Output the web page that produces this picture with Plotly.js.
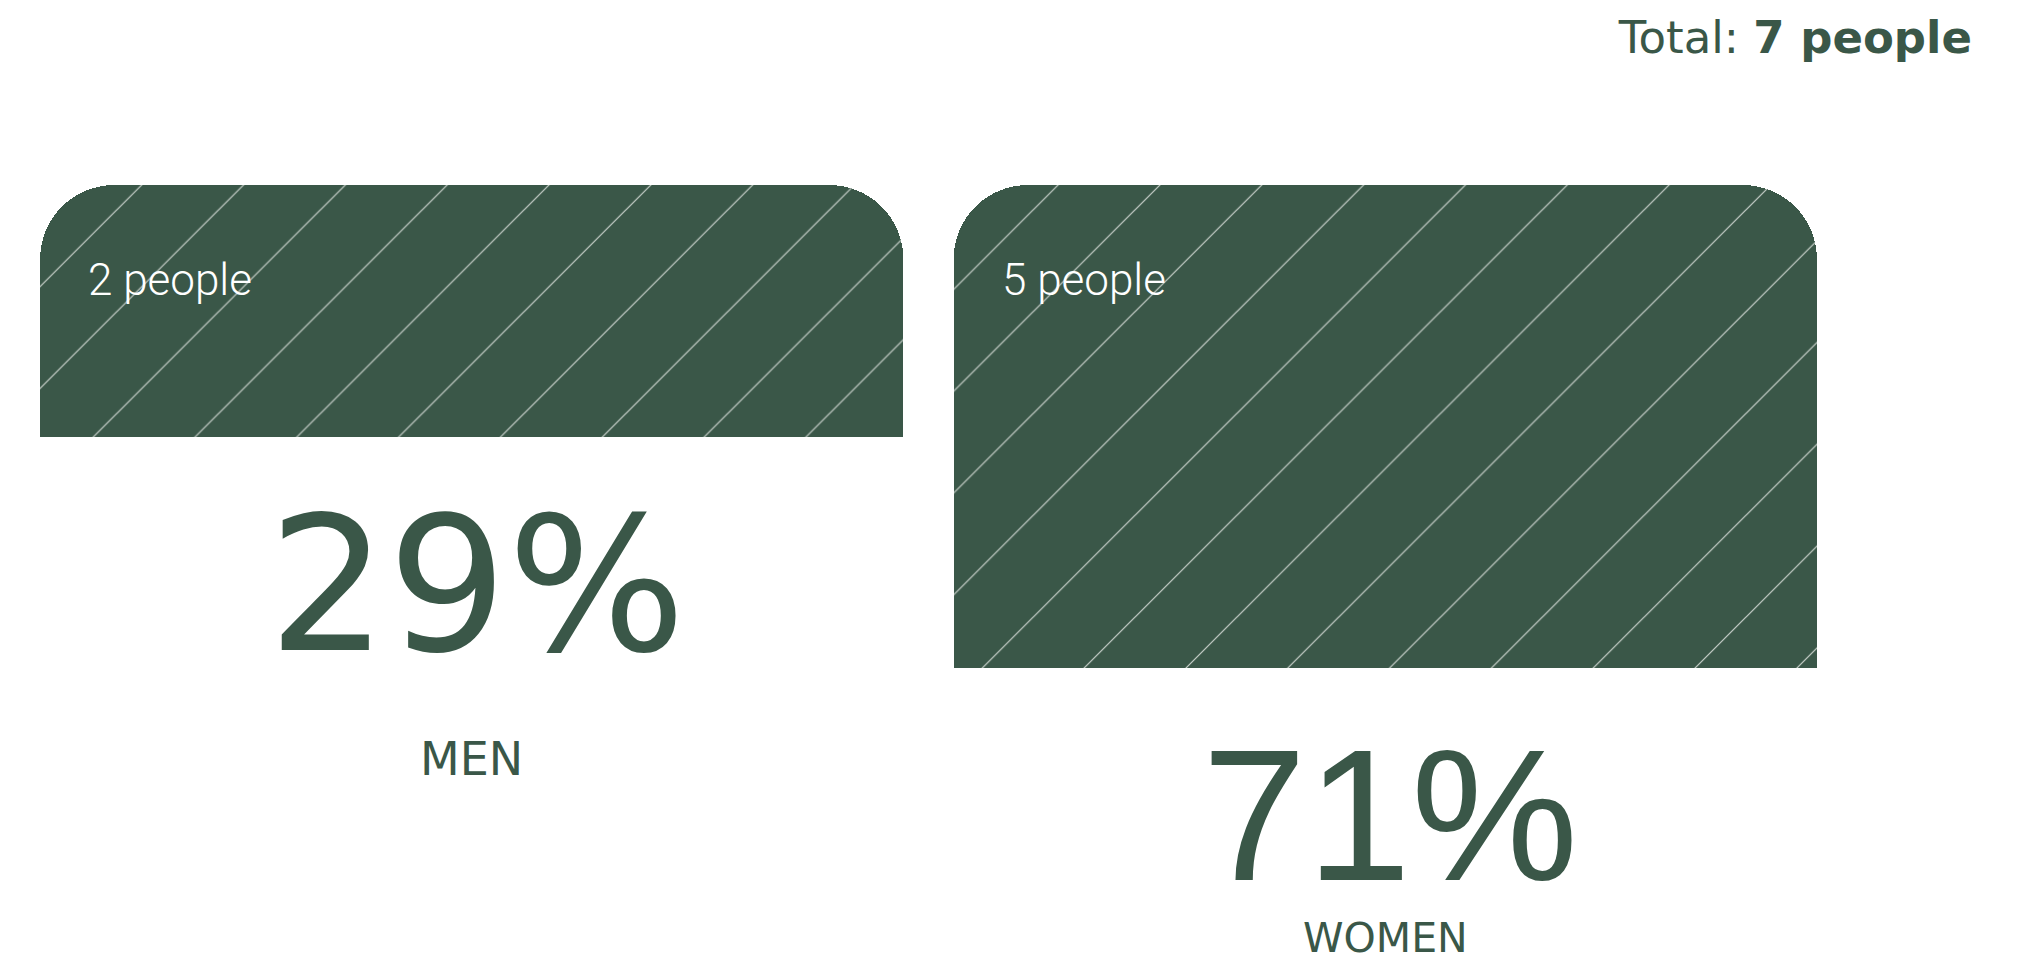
<!DOCTYPE html>
<html>
<head>
<meta charset="utf-8">
<script src="https://cdn.plot.ly/plotly-3.0.1.min.js"></script>
<style>
  html, body { margin: 0; padding: 0; background: #ffffff; }
  #chart { width: 2034px; height: 962px; }
</style>
</head>
<body>
<div id="chart"></div>
<script>
// ---- data ----
const categories = ['MEN', 'WOMEN'];
const counts = [2, 5];

// ---- style constants ----
const GREEN = '#3a5748';
const PAD = 1.27;              // extra bar length beyond the count
const STACK_TOP = 8;           // common top of every bar (bars hang down from it)
const BAR_WIDTH = 0.945;
const LABEL_DROP = [322, 270];  // px below bar bottom for category labels
const LABEL_SIZE = [46, 41];
const PCT_FONTS = ['DejaVu Sans', 'Liberation Sans'];

const total = counts.reduce((a, b) => a + b, 0);
const pct = counts.map(c => Math.round(c / total * 100));
const barLen = counts.map(c => c + PAD);
const spacer = barLen.map(l => STACK_TOP - l);
const xs = categories.map((c, i) => i);

const traces = [
  {
    type: 'bar', x: xs, y: spacer, width: xs.map(() => BAR_WIDTH),
    hoverinfo: 'skip', showlegend: false,
    marker: { color: 'rgba(0,0,0,0)', line: { width: 0 } }
  },
  {
    type: 'bar', x: xs, y: barLen, width: xs.map(() => BAR_WIDTH),
    hoverinfo: 'skip', showlegend: false,
    marker: {
      color: GREEN,
      line: { width: 0 },
      pattern: {
        shape: '/',
        size: 72,
        solidity: 0.017,
        fgcolor: '#e4e9e4',
        fgopacity: 0.85,
        bgcolor: GREEN,
        fillmode: 'replace'
      }
    }
  }
];

const annotations = [];
categories.forEach((cat, i) => {
  annotations.push({
    xref: 'x', yref: 'y', x: i - BAR_WIDTH / 2, y: STACK_TOP,
    xanchor: 'left', yanchor: 'middle', xshift: 46, yshift: -95,
    showarrow: false, text: counts[i] + ' people',
    font: { family: 'Roboto, Liberation Sans, sans-serif', size: 44, weight: 300, color: '#ffffff' }
  });
  annotations.push({
    xref: 'x', yref: 'y', x: i, y: spacer[i],
    xanchor: 'center', yanchor: 'middle', xshift: 5, yshift: -147,
    showarrow: false, text: pct[i] + '%',
    font: { family: PCT_FONTS[i], size: 188, color: GREEN }
  });
  annotations.push({
    xref: 'x', yref: 'y', x: i, y: spacer[i],
    xanchor: 'center', yanchor: 'middle', yshift: -LABEL_DROP[i],
    showarrow: false, text: cat,
    font: { family: 'DejaVu Sans', size: LABEL_SIZE[i], color: GREEN }
  });
});

const layout = {
  width: 2034, height: 962,
  paper_bgcolor: '#ffffff', plot_bgcolor: '#ffffff',
  margin: { l: 15, r: 192, t: 108, b: 122, pad: 0 },
  barmode: 'stack',
  barcornerradius: 74,
  title: {
    text: 'Total: <b>' + total + ' people</b>',
    xref: 'container', yref: 'container',
    x: 1972 / 2034, xanchor: 'right',
    y: 1 - 37 / 962, yanchor: 'middle',
    font: { family: 'DejaVu Sans', size: 45, color: GREEN }
  },
  xaxis: { range: [-0.5, 1.5], visible: false, fixedrange: true },
  yaxis: { range: [-0.5, 9], visible: false, fixedrange: true },
  annotations: annotations,
  showlegend: false
};

Plotly.newPlot('chart', traces, layout, { displayModeBar: false, staticPlot: true });
</script>
</body>
</html>
